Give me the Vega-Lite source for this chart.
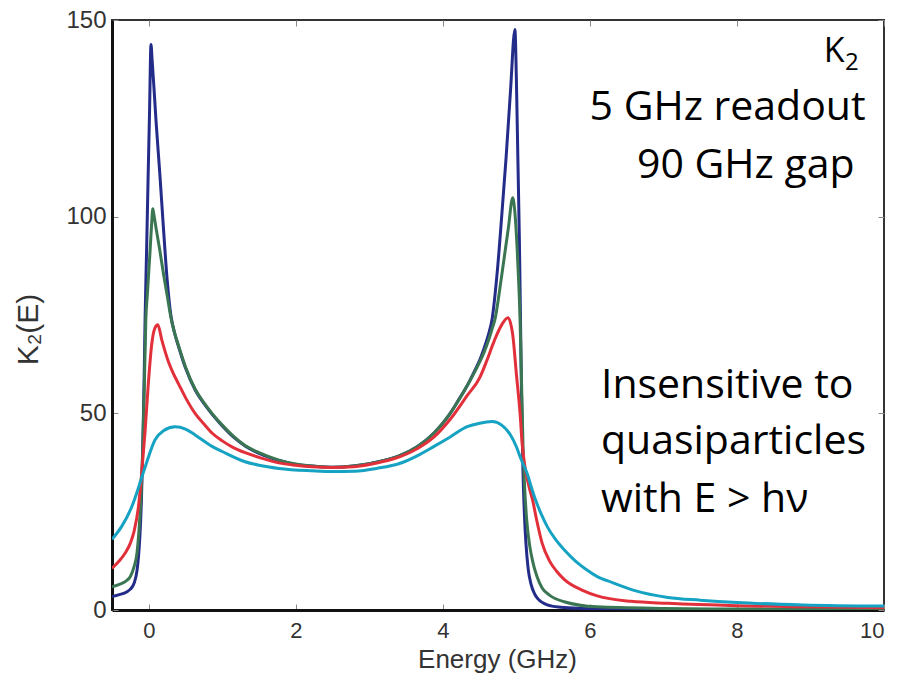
{
  "$schema": "https://vega.github.io/schema/vega-lite/v6.json",
  "width": 772,
  "height": 590,
  "autosize": "none",
  "padding": {"left": 112, "top": 20, "right": 16, "bottom": 65},
  "background": "white",
  "config": {
    "view": {"stroke": "#333", "strokeWidth": 2},
    "axis": {"grid": false, "labelFont": "Liberation Sans", "titleFont": "Liberation Sans", "labelColor": "#333", "titleColor": "#333", "titleFontWeight": "normal", "tickColor": "#888", "tickWidth": 1, "tickSize": -6}
  },
  "resolve": {"axis": {"x": "independent", "y": "independent"}},
  "datasets": {
    "curves": [
      {"c": "a", "E": -0.5, "K": 3.4}, {"c": "a", "E": -0.4, "K": 3.9}, {"c": "a", "E": -0.3, "K": 4.6}, {"c": "a", "E": -0.25, "K": 5.3}, {"c": "a", "E": -0.2, "K": 6.8}, {"c": "a", "E": -0.16, "K": 10}, {"c": "a", "E": -0.14, "K": 13.5}, {"c": "a", "E": -0.12, "K": 19}, {"c": "a", "E": -0.1, "K": 28}, {"c": "a", "E": -0.09, "K": 35}, {"c": "a", "E": -0.08, "K": 43}, {"c": "a", "E": -0.07, "K": 52}, {"c": "a", "E": -0.06, "K": 62}, {"c": "a", "E": -0.05, "K": 74}, {"c": "a", "E": -0.03, "K": 91}, {"c": "a", "E": -0.01, "K": 109}, {"c": "a", "E": 0.01, "K": 126}, {"c": "a", "E": 0.03, "K": 143.8}, {"c": "a", "E": 0.045, "K": 140}, {"c": "a", "E": 0.07, "K": 133}, {"c": "a", "E": 0.1, "K": 124}, {"c": "a", "E": 0.15, "K": 111}, {"c": "a", "E": 0.2, "K": 97}, {"c": "a", "E": 0.25, "K": 84}, {"c": "a", "E": 0.3, "K": 75}, {"c": "a", "E": 0.35, "K": 70.5}, {"c": "a", "E": 0.405, "K": 67}, {"c": "a", "E": 0.5, "K": 61.5}, {"c": "a", "E": 0.63, "K": 56}, {"c": "a", "E": 0.75, "K": 52.5}, {"c": "a", "E": 0.86, "K": 49.8}, {"c": "a", "E": 1.0, "K": 46.8}, {"c": "a", "E": 1.15, "K": 44}, {"c": "a", "E": 1.31, "K": 41.7}, {"c": "a", "E": 1.5, "K": 39.8}, {"c": "a", "E": 1.77, "K": 38}, {"c": "a", "E": 2.0, "K": 37}, {"c": "a", "E": 2.22, "K": 36.6}, {"c": "a", "E": 2.5, "K": 36.3}, {"c": "a", "E": 2.78, "K": 36.6}, {"c": "a", "E": 3.0, "K": 37.2}, {"c": "a", "E": 3.2, "K": 38}, {"c": "a", "E": 3.42, "K": 39.3}, {"c": "a", "E": 3.65, "K": 41.5}, {"c": "a", "E": 3.88, "K": 45}, {"c": "a", "E": 4.0, "K": 47.5}, {"c": "a", "E": 4.1, "K": 50}, {"c": "a", "E": 4.2, "K": 53}, {"c": "a", "E": 4.33, "K": 57}, {"c": "a", "E": 4.45, "K": 61.5}, {"c": "a", "E": 4.5, "K": 63.5}, {"c": "a", "E": 4.56, "K": 66.5}, {"c": "a", "E": 4.62, "K": 70}, {"c": "a", "E": 4.67, "K": 74}, {"c": "a", "E": 4.74, "K": 86}, {"c": "a", "E": 4.8, "K": 100}, {"c": "a", "E": 4.86, "K": 115}, {"c": "a", "E": 4.92, "K": 132}, {"c": "a", "E": 4.98, "K": 147.6}, {"c": "a", "E": 5.0, "K": 135}, {"c": "a", "E": 5.02, "K": 115}, {"c": "a", "E": 5.04, "K": 95}, {"c": "a", "E": 5.05, "K": 82}, {"c": "a", "E": 5.07, "K": 55}, {"c": "a", "E": 5.09, "K": 35}, {"c": "a", "E": 5.11, "K": 24}, {"c": "a", "E": 5.13, "K": 17}, {"c": "a", "E": 5.16, "K": 10.5}, {"c": "a", "E": 5.2, "K": 6.5}, {"c": "a", "E": 5.25, "K": 4}, {"c": "a", "E": 5.3, "K": 2.7}, {"c": "a", "E": 5.42, "K": 1.3}, {"c": "a", "E": 5.6, "K": 0.7}, {"c": "a", "E": 5.88, "K": 0.4}, {"c": "a", "E": 6.5, "K": 0.2}, {"c": "a", "E": 8.0, "K": 0.1}, {"c": "a", "E": 10.0, "K": 0.05},

      {"c": "b", "E": -0.5, "K": 5.9}, {"c": "b", "E": -0.4, "K": 6.5}, {"c": "b", "E": -0.3, "K": 7.5}, {"c": "b", "E": -0.25, "K": 8.5}, {"c": "b", "E": -0.2, "K": 11}, {"c": "b", "E": -0.16, "K": 14.5}, {"c": "b", "E": -0.13, "K": 21}, {"c": "b", "E": -0.1, "K": 31}, {"c": "b", "E": -0.08, "K": 42}, {"c": "b", "E": -0.06, "K": 57}, {"c": "b", "E": -0.04, "K": 73.8}, {"c": "b", "E": -0.02, "K": 80}, {"c": "b", "E": 0.0, "K": 86}, {"c": "b", "E": 0.02, "K": 92}, {"c": "b", "E": 0.04, "K": 98.5}, {"c": "b", "E": 0.055, "K": 102}, {"c": "b", "E": 0.07, "K": 100.5}, {"c": "b", "E": 0.1, "K": 97}, {"c": "b", "E": 0.15, "K": 91.5}, {"c": "b", "E": 0.2, "K": 85.5}, {"c": "b", "E": 0.25, "K": 80}, {"c": "b", "E": 0.3, "K": 74.5}, {"c": "b", "E": 0.35, "K": 70.5}, {"c": "b", "E": 0.405, "K": 67.2}, {"c": "b", "E": 0.5, "K": 61.8}, {"c": "b", "E": 0.63, "K": 56.2}, {"c": "b", "E": 0.75, "K": 52.7}, {"c": "b", "E": 0.86, "K": 50}, {"c": "b", "E": 1.0, "K": 47}, {"c": "b", "E": 1.15, "K": 44.2}, {"c": "b", "E": 1.31, "K": 41.8}, {"c": "b", "E": 1.5, "K": 40}, {"c": "b", "E": 1.77, "K": 38.1}, {"c": "b", "E": 2.0, "K": 37.1}, {"c": "b", "E": 2.22, "K": 36.6}, {"c": "b", "E": 2.5, "K": 36.3}, {"c": "b", "E": 2.78, "K": 36.6}, {"c": "b", "E": 3.0, "K": 37.2}, {"c": "b", "E": 3.2, "K": 38}, {"c": "b", "E": 3.42, "K": 39.3}, {"c": "b", "E": 3.65, "K": 41.5}, {"c": "b", "E": 3.88, "K": 45}, {"c": "b", "E": 4.1, "K": 50}, {"c": "b", "E": 4.33, "K": 57}, {"c": "b", "E": 4.5, "K": 63}, {"c": "b", "E": 4.56, "K": 65.5}, {"c": "b", "E": 4.62, "K": 68.5}, {"c": "b", "E": 4.67, "K": 71.5}, {"c": "b", "E": 4.71, "K": 74}, {"c": "b", "E": 4.77, "K": 81}, {"c": "b", "E": 4.83, "K": 89}, {"c": "b", "E": 4.89, "K": 97}, {"c": "b", "E": 4.95, "K": 104.8}, {"c": "b", "E": 4.98, "K": 101}, {"c": "b", "E": 5.01, "K": 92}, {"c": "b", "E": 5.03, "K": 84}, {"c": "b", "E": 5.05, "K": 74}, {"c": "b", "E": 5.07, "K": 58}, {"c": "b", "E": 5.09, "K": 42}, {"c": "b", "E": 5.11, "K": 32}, {"c": "b", "E": 5.14, "K": 23}, {"c": "b", "E": 5.18, "K": 16.5}, {"c": "b", "E": 5.22, "K": 12.5}, {"c": "b", "E": 5.28, "K": 8.5}, {"c": "b", "E": 5.35, "K": 5.6}, {"c": "b", "E": 5.45, "K": 3.8}, {"c": "b", "E": 5.65, "K": 2.1}, {"c": "b", "E": 6.1, "K": 0.8}, {"c": "b", "E": 7.0, "K": 0.4}, {"c": "b", "E": 8.0, "K": 0.25}, {"c": "b", "E": 10.0, "K": 0.15},

      {"c": "c", "E": -0.5, "K": 10.6}, {"c": "c", "E": -0.4, "K": 12.5}, {"c": "c", "E": -0.32, "K": 14.5}, {"c": "c", "E": -0.25, "K": 17}, {"c": "c", "E": -0.2, "K": 20}, {"c": "c", "E": -0.14, "K": 26.3}, {"c": "c", "E": -0.1, "K": 34}, {"c": "c", "E": -0.05, "K": 45.5}, {"c": "c", "E": -0.005, "K": 57.8}, {"c": "c", "E": 0.04, "K": 67.5}, {"c": "c", "E": 0.08, "K": 71.5}, {"c": "c", "E": 0.123, "K": 72.5}, {"c": "c", "E": 0.177, "K": 68.7}, {"c": "c", "E": 0.27, "K": 63}, {"c": "c", "E": 0.33, "K": 60.3}, {"c": "c", "E": 0.405, "K": 57.5}, {"c": "c", "E": 0.5, "K": 54}, {"c": "c", "E": 0.63, "K": 50}, {"c": "c", "E": 0.75, "K": 47.3}, {"c": "c", "E": 0.86, "K": 45}, {"c": "c", "E": 1.0, "K": 43}, {"c": "c", "E": 1.15, "K": 41.3}, {"c": "c", "E": 1.31, "K": 40}, {"c": "c", "E": 1.5, "K": 38.8}, {"c": "c", "E": 1.77, "K": 37.4}, {"c": "c", "E": 2.0, "K": 36.8}, {"c": "c", "E": 2.22, "K": 36.4}, {"c": "c", "E": 2.5, "K": 36.2}, {"c": "c", "E": 2.78, "K": 36.4}, {"c": "c", "E": 3.0, "K": 37}, {"c": "c", "E": 3.2, "K": 37.8}, {"c": "c", "E": 3.42, "K": 39}, {"c": "c", "E": 3.65, "K": 41}, {"c": "c", "E": 3.88, "K": 44}, {"c": "c", "E": 4.1, "K": 48.5}, {"c": "c", "E": 4.33, "K": 54.5}, {"c": "c", "E": 4.5, "K": 59}, {"c": "c", "E": 4.6, "K": 63.5}, {"c": "c", "E": 4.7, "K": 68.5}, {"c": "c", "E": 4.8, "K": 72.5}, {"c": "c", "E": 4.886, "K": 74.3}, {"c": "c", "E": 4.95, "K": 70}, {"c": "c", "E": 5.0, "K": 60}, {"c": "c", "E": 5.05, "K": 50}, {"c": "c", "E": 5.08, "K": 42}, {"c": "c", "E": 5.12, "K": 36}, {"c": "c", "E": 5.17, "K": 31.5}, {"c": "c", "E": 5.22, "K": 28}, {"c": "c", "E": 5.28, "K": 22.5}, {"c": "c", "E": 5.35, "K": 17}, {"c": "c", "E": 5.45, "K": 12.5}, {"c": "c", "E": 5.55, "K": 9.8}, {"c": "c", "E": 5.65, "K": 7.8}, {"c": "c", "E": 5.9, "K": 5}, {"c": "c", "E": 6.1, "K": 3.6}, {"c": "c", "E": 6.56, "K": 2.2}, {"c": "c", "E": 7.06, "K": 1.7}, {"c": "c", "E": 8.0, "K": 1.1}, {"c": "c", "E": 9.0, "K": 0.8}, {"c": "c", "E": 10.0, "K": 0.6},

      {"c": "d", "E": -0.5, "K": 18}, {"c": "d", "E": -0.37, "K": 21.2}, {"c": "d", "E": -0.23, "K": 26.3}, {"c": "d", "E": -0.15, "K": 30.5}, {"c": "d", "E": -0.1, "K": 33.5}, {"c": "d", "E": -0.05, "K": 36.3}, {"c": "d", "E": 0.086, "K": 43.3}, {"c": "d", "E": 0.2, "K": 45.6}, {"c": "d", "E": 0.36, "K": 46.6}, {"c": "d", "E": 0.5, "K": 46}, {"c": "d", "E": 0.63, "K": 44.5}, {"c": "d", "E": 0.86, "K": 41.6}, {"c": "d", "E": 1.0, "K": 40.3}, {"c": "d", "E": 1.31, "K": 37.7}, {"c": "d", "E": 1.5, "K": 36.8}, {"c": "d", "E": 1.77, "K": 36}, {"c": "d", "E": 2.22, "K": 35.4}, {"c": "d", "E": 2.5, "K": 35.2}, {"c": "d", "E": 2.8, "K": 35.3}, {"c": "d", "E": 3.1, "K": 36}, {"c": "d", "E": 3.42, "K": 37.3}, {"c": "d", "E": 3.65, "K": 39.2}, {"c": "d", "E": 3.88, "K": 41.6}, {"c": "d", "E": 4.1, "K": 44}, {"c": "d", "E": 4.33, "K": 46.6}, {"c": "d", "E": 4.5, "K": 47.5}, {"c": "d", "E": 4.67, "K": 47.9}, {"c": "d", "E": 4.8, "K": 47}, {"c": "d", "E": 4.92, "K": 44.5}, {"c": "d", "E": 5.0, "K": 41.5}, {"c": "d", "E": 5.06, "K": 38.5}, {"c": "d", "E": 5.15, "K": 34.5}, {"c": "d", "E": 5.2, "K": 31.4}, {"c": "d", "E": 5.26, "K": 28}, {"c": "d", "E": 5.34, "K": 24.3}, {"c": "d", "E": 5.42, "K": 21.2}, {"c": "d", "E": 5.53, "K": 18}, {"c": "d", "E": 5.65, "K": 15.3}, {"c": "d", "E": 5.8, "K": 12.5}, {"c": "d", "E": 5.95, "K": 10.3}, {"c": "d", "E": 6.1, "K": 8.5}, {"c": "d", "E": 6.3, "K": 7}, {"c": "d", "E": 6.6, "K": 5}, {"c": "d", "E": 7.06, "K": 3.2}, {"c": "d", "E": 7.5, "K": 2.5}, {"c": "d", "E": 8.0, "K": 1.9}, {"c": "d", "E": 8.9, "K": 1.3}, {"c": "d", "E": 10.0, "K": 1.0}
    ]
  },
  "layer": [
    {
      "data": {"name": "curves"},
      "mark": {"type": "line", "strokeWidth": 3, "interpolate": "monotone", "clip": true},
      "encoding": {
        "x": {"field": "E", "type": "quantitative", "scale": {"domain": [-0.5, 10], "nice": false, "zero": false},
              "axis": {"orient": "bottom", "values": [0, 2, 4, 6, 8, 10], "format": "d", "domainColor": "#111", "domainWidth": 3, "labelFontSize": 22, "labelPadding": 16, "title": "Energy (GHz)", "titleFontSize": 26, "titleX": 385, "titleY": 57, "titleBaseline": "alphabetic"}},
        "y": {"field": "K", "type": "quantitative", "scale": {"domain": [0, 150], "nice": false},
              "axis": {"orient": "left", "values": [0, 50, 100, 150], "domainColor": "#111", "domainWidth": 3, "labelFontSize": 24, "labelPadding": 12, "labelBaseline": "middle", "title": "K₂(E)", "titleFontSize": 30, "titleAngle": -90, "titleX": -75, "titleY": 309, "titleAlign": "center", "titleBaseline": "alphabetic"}},
        "color": {"field": "c", "type": "nominal", "scale": {"domain": ["a", "b", "c", "d"], "range": ["#232c88", "#3b7653", "#e2303b", "#16a2c2"]}, "legend": null}
      }
    },
    {
      "data": {"values": [{"label": "Insensitive to"}]},
      "mark": {"type": "text", "font": "Open Sans", "fontSize": 41, "align": "left", "baseline": "alphabetic", "color": "#000"},
      "encoding": {
        "x": {"datum": 6.15, "type": "quantitative", "scale": {"domain": [-0.5, 10], "nice": false, "zero": false},
              "axis": {"orient": "top", "values": [0, 2, 4, 6, 8, 10], "labels": false, "title": null, "domain": false}},
        "y": {"datum": 54, "type": "quantitative", "scale": {"domain": [0, 150], "nice": false},
              "axis": {"orient": "right", "values": [0, 50, 100, 150], "labels": false, "title": null, "domain": false}},
        "text": {"field": "label"}
      }
    },
    {
      "data": {"values": [{"label": "quasiparticles"}]},
      "mark": {"type": "text", "font": "Open Sans", "fontSize": 41, "align": "left", "baseline": "alphabetic", "color": "#000"},
      "encoding": {
        "x": {"datum": 6.15, "type": "quantitative", "scale": {"domain": [-0.5, 10], "nice": false, "zero": false}, "axis": null},
        "y": {"datum": 39.7, "type": "quantitative", "scale": {"domain": [0, 150], "nice": false}, "axis": null},
        "text": {"field": "label"}
      }
    },
    {
      "data": {"values": [{"label": "with E > hν"}]},
      "mark": {"type": "text", "font": "Open Sans", "fontSize": 41, "align": "left", "baseline": "alphabetic", "color": "#000"},
      "encoding": {
        "x": {"datum": 6.15, "type": "quantitative", "scale": {"domain": [-0.5, 10], "nice": false, "zero": false}, "axis": null},
        "y": {"datum": 25, "type": "quantitative", "scale": {"domain": [0, 150], "nice": false}, "axis": null},
        "text": {"field": "label"}
      }
    },
    {
      "data": {"values": [{"label": "5 GHz readout"}]},
      "mark": {"type": "text", "font": "Open Sans", "fontSize": 41, "align": "right", "baseline": "alphabetic", "color": "#000"},
      "encoding": {
        "x": {"datum": 9.75, "type": "quantitative", "scale": {"domain": [-0.5, 10], "nice": false, "zero": false}, "axis": null},
        "y": {"datum": 124.7, "type": "quantitative", "scale": {"domain": [0, 150], "nice": false}, "axis": null},
        "text": {"field": "label"}
      }
    },
    {
      "data": {"values": [{"label": "90 GHz gap"}]},
      "mark": {"type": "text", "font": "Open Sans", "fontSize": 41, "align": "right", "baseline": "alphabetic", "color": "#000"},
      "encoding": {
        "x": {"datum": 9.6, "type": "quantitative", "scale": {"domain": [-0.5, 10], "nice": false, "zero": false}, "axis": null},
        "y": {"datum": 109.9, "type": "quantitative", "scale": {"domain": [0, 150], "nice": false}, "axis": null},
        "text": {"field": "label"}
      }
    },
    {
      "data": {"values": [{"label": "K"}]},
      "mark": {"type": "text", "font": "Open Sans", "fontSize": 34, "align": "right", "baseline": "alphabetic", "color": "#000"},
      "encoding": {
        "x": {"datum": 9.464, "type": "quantitative", "scale": {"domain": [-0.5, 10], "nice": false, "zero": false}, "axis": null},
        "y": {"datum": 139.2, "type": "quantitative", "scale": {"domain": [0, 150], "nice": false}, "axis": null},
        "text": {"field": "label"}
      }
    },
    {
      "data": {"values": [{"label": "2"}]},
      "mark": {"type": "text", "font": "Open Sans", "fontSize": 24, "align": "left", "baseline": "alphabetic", "color": "#000"},
      "encoding": {
        "x": {"datum": 9.47, "type": "quantitative", "scale": {"domain": [-0.5, 10], "nice": false, "zero": false}, "axis": null},
        "y": {"datum": 137.4, "type": "quantitative", "scale": {"domain": [0, 150], "nice": false}, "axis": null},
        "text": {"field": "label"}
      }
    }
  ]
}
